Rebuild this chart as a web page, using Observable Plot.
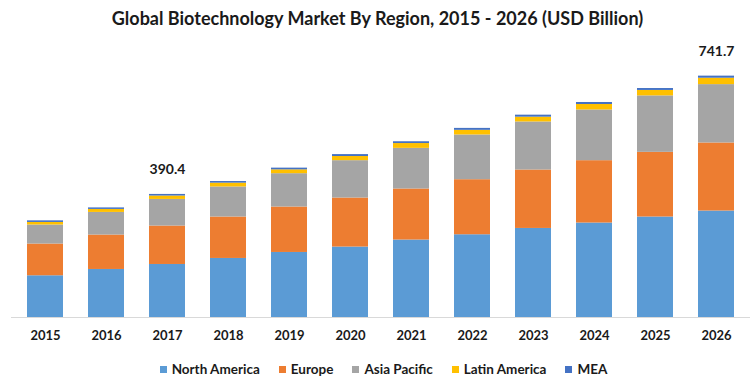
<!DOCTYPE html>
<html>
<head>
<meta charset="utf-8">
<script src="https://cdn.jsdelivr.net/npm/d3@7"></script>
<script src="https://cdn.jsdelivr.net/npm/@observablehq/plot@0.6"></script>
<style>
  html, body { margin: 0; padding: 0; background: #fff; }
  body { width: 755px; height: 385px; overflow: hidden; font-family: Lato, "Open Sans", sans-serif; }
  #title { height: 36px; line-height: 36px; text-align: center; font-weight: bold; font-size: 18px; color: #1a1a1a; }
  #legend { display: flex; justify-content: center; gap: 19px; padding-top: 15px; padding-left: 12px; font-size: 13.5px; font-weight: bold; color: #1a1a1a; line-height: 14px; }
  .item { display: flex; align-items: center; gap: 5px; }
  .sw { width: 7px; height: 7px; display: inline-block; }
</style>
</head>
<body>
<div id="title">Global Biotechnology Market By Region, 2015 - 2026 (USD Billion)</div>
<div id="chart"></div>
<div id="legend"></div>
<script>
const years = ["2015","2016","2017","2018","2019","2020","2021","2022","2023","2024","2025","2026"];
const seriesNames = ["North America","Europe","Asia Pacific","Latin America","MEA"];
const seriesColors = ["#5B9BD5","#ED7D31","#A5A5A5","#FFC000","#4472C4"];
const northAmerica = [130.3,150.0,165.6,184.4,203.1,220.0,241.9,258.4,278.1,295.0,313.8,332.5];
const europe       = [99.1,107.5,120.0,129.4,141.9,153.1,159.4,171.9,182.5,194.7,201.9,212.5];
const asiaPacific  = [59.4,70.6,83.1,93.8,104.1,116.6,126.9,139.7,150.0,158.4,176.3,182.2];
const latinAmerica = [8.0,9.4,10.6,12.0,12.0,13.0,15.0,14.5,15.0,17.0,17.0,20.0];
const mea          = [5.0,4.7,5.0,5.0,5.3,6.0,5.6,6.0,6.2,6.3,6.0,6.5];
const labelYears   = ["2017","2026"];
const labelTexts   = ["390.4","741.7"];

const seriesValues = [northAmerica, europe, asiaPacific, latinAmerica, mea];
const data = [];
seriesNames.forEach((s, si) => years.forEach((y, i) => data.push({year: y, series: s, value: seriesValues[si][i]})));
const totals = years.map((y, i) => seriesValues.reduce((a, arr) => a + arr[i], 0));
const labels = labelYears.map((y, i) => ({year: y, total: totals[years.indexOf(y)], text: labelTexts[i]}));

const chart = Plot.plot({
  width: 755,
  height: 311,
  marginTop: 20,
  marginBottom: 30,
  marginLeft: 11,
  marginRight: 5,
  style: {fontFamily: "Lato, 'Open Sans', sans-serif", background: "#fff"},
  x: {domain: years, paddingInner: 0.416, paddingOuter: 0.2, label: null, tickSize: 0, tickPadding: 13},
  y: {domain: [0, 815], axis: null},
  color: {domain: seriesNames, range: seriesColors},
  marks: [
    Plot.barY(data, {x: "year", y: "value", fill: "series"}),
    Plot.ruleY([0], {stroke: "#d9d9d9", strokeWidth: 1}),
    Plot.axisX({tickSize: 0, tickPadding: 13, fontSize: 13, fontWeight: "bold", fill: "#1a1a1a", label: null}),
    Plot.text(labels, {x: "year", y: "total", text: "text", dy: -25, fontSize: 14, fontWeight: "bold", fill: "#1a1a1a"})
  ]
});
document.getElementById("chart").appendChild(chart);

const legend = document.getElementById("legend");
seriesNames.forEach((s, i) => {
  const it = document.createElement("div");
  it.className = "item";
  const sw = document.createElement("span");
  sw.className = "sw";
  sw.style.background = seriesColors[i];
  const tx = document.createElement("span");
  tx.textContent = s;
  it.appendChild(sw); it.appendChild(tx);
  legend.appendChild(it);
});
</script>
</body>
</html>
